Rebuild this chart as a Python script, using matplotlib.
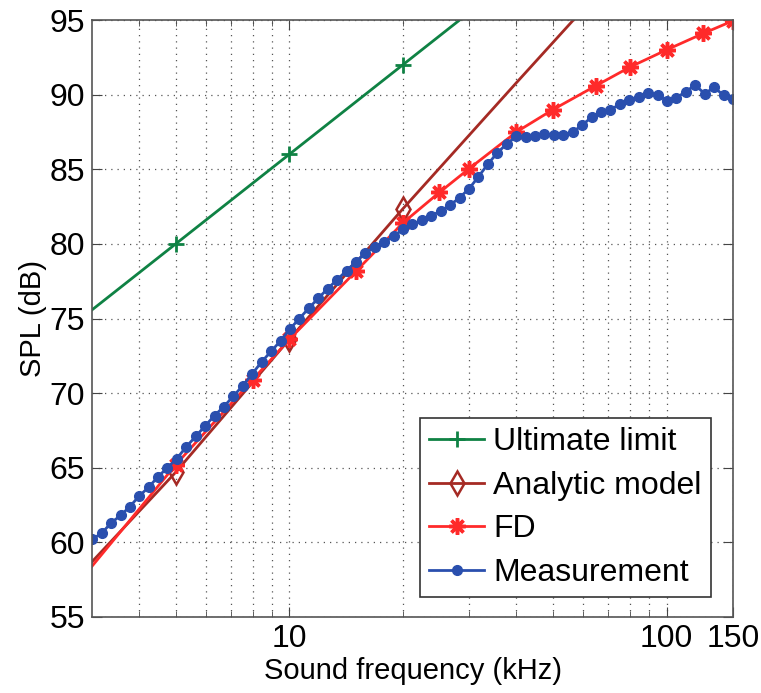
import matplotlib.pyplot as plt
from matplotlib.ticker import FixedLocator, NullFormatter, FixedFormatter

plt.rcParams['font.family'] = ['Liberation Sans', 'DejaVu Sans']

# --- data (kHz, dB) ---
ultimate_khz = [2.5, 5, 10, 20, 40]
ultimate_db = [74.0, 80.0, 86.0, 92.0, 98.0]

analytic_khz = [3, 5, 10, 20, 40, 60]
analytic_db = [58.7, 64.7, 73.6, 82.35, 90.8, 95.7]

fd_khz = [3, 5, 8, 10, 15, 20, 25, 30, 40, 50, 65, 80, 100, 125, 150]
fd_db = [58.4, 65.2, 70.9, 73.6, 78.15, 81.4, 83.45, 85.05, 87.5, 89.0,
         90.6, 91.85, 93.0, 94.1, 94.95]

meas_khz = [3.00, 3.18, 3.37, 3.57, 3.78, 4.00, 4.24, 4.49, 4.75, 5.03,
            5.33, 5.65, 5.98, 6.34, 6.71, 7.11, 7.53, 7.98, 8.45, 8.95,
            9.48, 10.04, 10.64, 11.27, 11.93, 12.64, 13.39, 14.18, 15.02, 15.91,
            16.85, 17.85, 18.91, 20.03, 21.21, 22.47, 23.80, 25.21, 26.70, 28.28,
            29.96, 31.73, 33.61, 35.60, 37.71, 39.94, 42.31, 44.81, 47.47, 50.28,
            53.25, 56.41, 59.75, 63.29, 67.03, 71.00, 75.21, 79.66, 84.38, 89.37,
            94.67, 100.27, 106.21, 112.50, 119.16, 126.22, 133.69, 141.61, 150.00]
meas_db = [60.2, 60.6, 61.3, 61.8, 62.4, 63.1, 63.7, 64.4, 65.0, 65.6,
           66.4, 67.1, 67.8, 68.5, 69.1, 69.8, 70.5, 71.3, 72.1, 72.8,
           73.5, 74.3, 75.0, 75.7, 76.35, 77.0, 77.6, 78.2, 78.8, 79.4,
           79.8, 80.1, 80.5, 81.0, 81.3, 81.6, 81.9, 82.2, 82.6, 83.1,
           83.7, 84.5, 85.35, 86.1, 86.7, 87.2, 87.15, 87.2, 87.35, 87.3,
           87.3, 87.5, 87.95, 88.5, 88.85, 89.0, 89.35, 89.65, 89.85, 90.1,
           89.95, 89.6, 89.8, 90.2, 90.65, 90.05, 90.5, 89.95, 89.7]

x_major = [10, 100, 150]
x_minor = [4, 5, 6, 7, 8, 9, 20, 30, 40, 50, 60, 70, 80, 90]
y_ticks = [55, 60, 65, 70, 75, 80, 85, 90, 95]

fig = plt.figure(figsize=(7.61, 6.93), dpi=100)
ax = fig.add_axes([0.1209, 0.1097, 0.8423, 0.8614])

ax.plot(ultimate_khz, ultimate_db, color='#0f8244', lw=2, marker='+',
        markersize=11, mew=2, markevery=[1, 2, 3], label='Ultimate limit')
ax.plot(analytic_khz, analytic_db, color='#a52a24', lw=2, marker='d',
        markersize=12, mfc='none', mew=1.8, markevery=[1, 2, 3],
        label='Analytic model')
ax.plot(fd_khz, fd_db, color='#ff2a2a', lw=2, marker=(8, 2, 0),
        markersize=12, mew=2.5, markevery=list(range(1, len(fd_khz))),
        label='FD')
ax.plot(meas_khz, meas_db, color='#2a4fae', lw=2, marker='o',
        markersize=7, label='Measurement')

ax.set_xscale('log')
ax.set_xlim(3, 150)
ax.set_ylim(55, 95)
ax.xaxis.set_major_locator(FixedLocator(x_major))
ax.xaxis.set_major_formatter(FixedFormatter([str(v) for v in x_major]))
ax.xaxis.set_minor_locator(FixedLocator(x_minor))
ax.xaxis.set_minor_formatter(NullFormatter())
ax.set_yticks(y_ticks)

ax.grid(True, which='both', linestyle=(0, (1, 4)), color='#555555', lw=0.9)
ax.tick_params(which='both', direction='in', top=True, right=True,
               labelsize=23, colors='#444444', labelcolor='black', pad=5)
ax.tick_params(which='major', length=7)
ax.tick_params(which='minor', length=4)
for s in ax.spines.values():
    s.set_color('#555555')
    s.set_linewidth(1.2)

ax.set_xlabel('Sound frequency (kHz)', fontsize=21, labelpad=2)
ax.set_ylabel('SPL (dB)', fontsize=21, labelpad=2)

leg = ax.legend(loc='lower right', bbox_to_anchor=(0.966, 0.033),
                fontsize=23, fancybox=False, framealpha=1, edgecolor='#333333',
                handlelength=1.7, handletextpad=0.3, borderpad=0.3,
                labelspacing=0.42, borderaxespad=0)
leg.get_frame().set_linewidth(1.2)

plt.savefig('out.png', dpi=100)
